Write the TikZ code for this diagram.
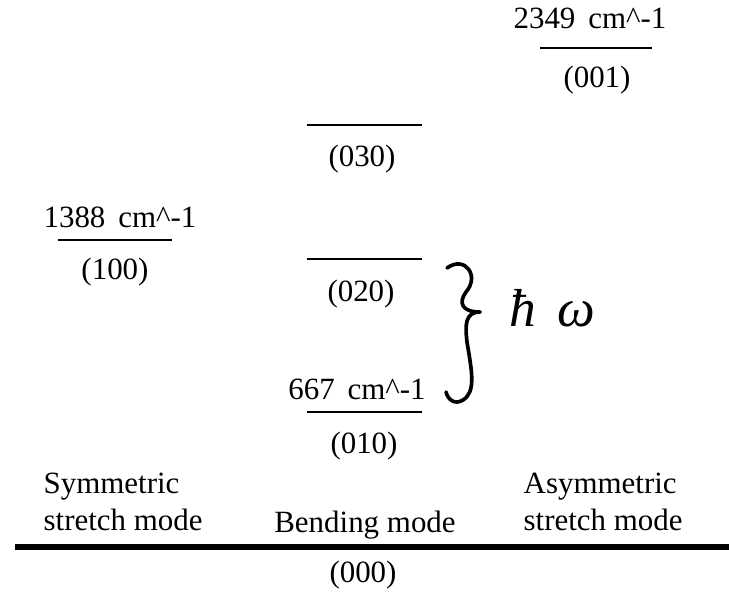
\documentclass[tikz,border=0pt]{standalone}
\usepackage{fontspec}
\setmainfont{Liberation Serif}
\usepackage{tikz}
\usetikzlibrary{positioning}

\begin{document}
\begin{tikzpicture}[
    x=0.025cm, y=-0.025cm,
    lvl/.style={line width=1.3pt},
    ground/.style={line width=4.3pt},
    lbl/.style={font=\fontsize{22}{26}\selectfont, inner sep=1pt},
    modelbl/.style={font=\fontsize{22}{26.3}\selectfont, align=left, inner sep=1pt},
    hand/.style={line width=2.6pt, line cap=round, line join=round},
  ]
  \useasboundingbox (0,0) rectangle (729,599);

  % Energy levels
  \draw[lvl] (540,48) -- (652,48);
  \node[lbl] (e001) at (590,18) {2349\, cm\textasciicircum-1};
  \node[lbl] (n001) at (597,80) {(001)};

  \draw[lvl] (307,125) -- (422,125);
  \node[lbl] (n030) at (362,159) {(030)};

  \draw[lvl] (58,240) -- (172,240);
  \node[lbl] (e100) at (120,217) {1388\, cm\textasciicircum-1};
  \node[lbl] (n100) at (115,272) {(100)};

  \draw[lvl] (307,259) -- (422,259);
  \node[lbl] (n020) at (361,294) {(020)};

  \draw[lvl] (307,412) -- (422,412);
  \node[lbl] (e010) at (357,389) {667\, cm\textasciicircum-1};
  \node[lbl] (n010) at (364,446) {(010)};

  % Ground state
  \draw[ground] (15,547) -- (729,547);
  \node[lbl] (n000) at (363,575) {(000)};

  % Mode labels
  \node[modelbl, anchor=north west] (sym) at (42,471) {Symmetric\\stretch mode};
  \node[modelbl, anchor=north] (bend) at (365,509) {Bending mode};
  \node[modelbl, anchor=north west] (asym) at (522,471) {Asymmetric\\stretch mode};

  % Handwritten brace
  \draw[hand] (447,268) .. controls (465,255) and (480,276) .. (466,292)
    .. controls (458,303) and (462,312) .. (480,312);
  \draw[hand] (480,312) .. controls (465,312) and (465,325) .. (467,342)
    .. controls (472,372) and (476,392) .. (463,400)
    .. controls (455,405) and (448,400) .. (446,392);
  \node[font=\fontsize{38}{40}\selectfont\itshape] (hw) at (552,308) {ħ\hspace{0.4em}ω};
\end{tikzpicture}
\end{document}
